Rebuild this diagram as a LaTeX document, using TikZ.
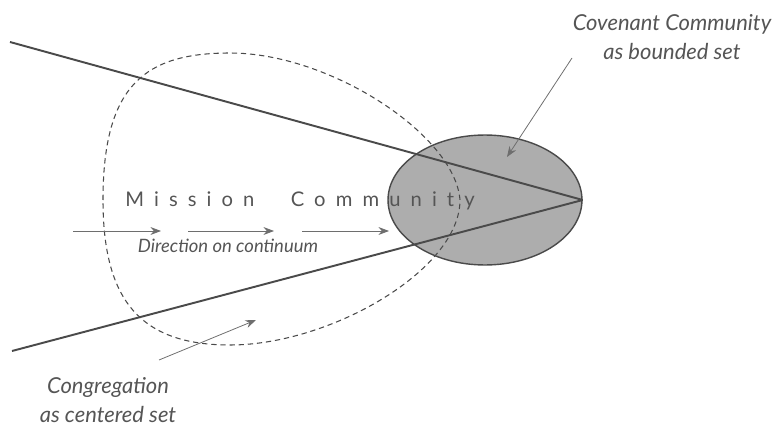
\documentclass[tikz,border=0pt]{standalone}
\usepackage{fontspec}
\setmainfont{Lato}
\newfontfamily\spacedfont[LetterSpace=50]{Lato}
\usetikzlibrary{shapes.geometric,arrows.meta}
\definecolor{ink}{HTML}{4A4A4A}
\definecolor{txt}{HTML}{555555}
\definecolor{fillgray}{HTML}{ADADAD}
\begin{document}
\begin{tikzpicture}[x=0.02cm,y=-0.02cm,
  mainline/.style={draw=ink,line width=1.1pt},
  dashline/.style={draw=ink,line width=0.6pt,dash pattern=on 3pt off 2.2pt},
  pointer/.style={draw=ink!80,line width=0.45pt,-{Stealth[length=6pt,width=4.5pt]}},
  label/.style={text=txt,font=\itshape\fontsize{12.5}{16.5}\selectfont,align=center,inner sep=0pt}]
\useasboundingbox (0,0) rectangle (782,426);
% bounded set
\node[ellipse,draw=ink,line width=0.8pt,fill=fillgray,minimum width=3.88cm,minimum height=2.6cm,inner sep=0pt] (cov) at (485,200) {};
% centered set (dashed)
\draw[dashline] (103,200) .. controls (103,85) and (145,53) .. (230,53)
  .. controls (330,53) and (455,135) .. (460,200)
  .. controls (460,270) and (330,345) .. (230,345)
  .. controls (140,345) and (103,300) .. (103,200) -- cycle;
% converging lines
\coordinate (ul) at (10,42);
\coordinate (ll) at (12,351);
\draw[mainline] (ul) -- (cov.east);
\draw[mainline] (ll) -- (cov.east);
% title
\node[text=txt,inner sep=0pt,anchor=base west] (mc) at (125,206) {\spacedfont\fontsize{11.5}{13}\selectfont Mission\hspace{12pt} Community};
% direction arrows
\coordinate (a1s) at (73,231); \coordinate (a1e) at (161,231);
\coordinate (a2s) at (188,231); \coordinate (a2e) at (274,231);
\coordinate (a3s) at (302,231); \coordinate (a3e) at (389,231);
\draw[pointer] (a1s) -- (a1e);
\draw[pointer] (a2s) -- (a2e);
\draw[pointer] (a3s) -- (a3e);
\node[text=txt,inner sep=0pt,font=\itshape\fontsize{10.5}{12}\selectfont] (dir) at (228,246) {Direction on continuum};
% labels
\node[label] (covlab) at (672,37) {Covenant Community\\as bounded set};
\coordinate (covp) at (572,58);
\coordinate (covt) at (507,157);
\draw[pointer] (covp) -- (covt);
\node[label] (conglab) at (108,400) {Congregation\\as centered set};
\coordinate (congp) at (159,360);
\coordinate (congt) at (256,320);
\draw[pointer] (congp) -- (congt);
\end{tikzpicture}
\end{document}
